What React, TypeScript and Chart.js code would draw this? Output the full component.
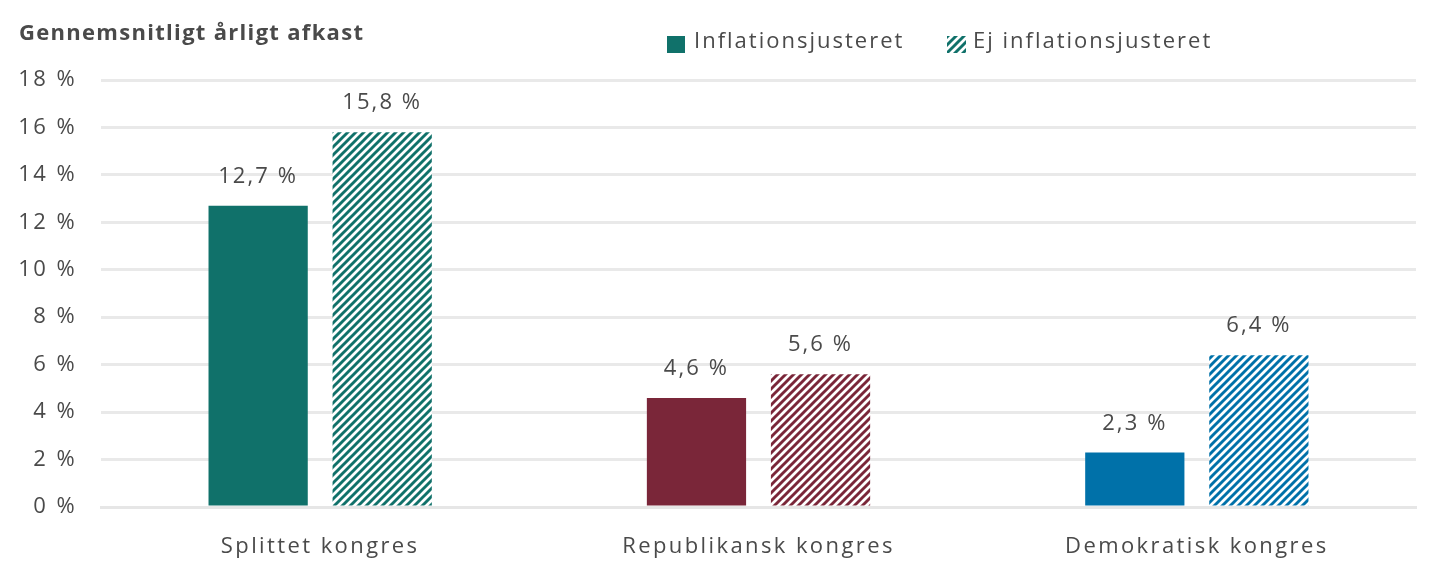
import React, { useEffect, useRef } from "react";
import { Chart, registerables } from "chart.js";

Chart.register(...registerables);

const categories = ["Splittet kongres", "Republikansk kongres", "Demokratisk kongres"];
const adjustedLabel = "Inflationsjusteret";
const nominalLabel = "Ej inflationsjusteret";
const adjustedValues = [12.7, 4.6, 2.3];
const nominalValues = [15.8, 5.6, 6.4];
const categoryColors = ["#10716a", "#7a2639", "#0071a9"];
const chartTitle = "Gennemsnitligt årligt afkast";
const FONT = '"Open Sans", sans-serif';
const TEXT = "#4a4a4a";

const fmt = (v: number) => `${v.toString().replace(".", ",")} %`;

function stripes(color: string): CanvasPattern {
  const size = 8;
  const c = document.createElement("canvas");
  c.width = size;
  c.height = size;
  const x = c.getContext("2d")!;
  x.fillStyle = "#ffffff";
  x.fillRect(0, 0, size, size);
  x.strokeStyle = color;
  x.lineWidth = 2.9;
  x.lineCap = "square";
  x.beginPath();
  for (let i = -size; i <= size; i += size) {
    x.moveTo(i - 1, size + 1);
    x.lineTo(i + size + 1, -1);
  }
  x.stroke();
  return x.createPattern(c, "repeat")!;
}

const spacingPlugin = {
  id: "spacing",
  beforeDraw(chart: any) {
    chart.ctx.letterSpacing = "2.4px";
  },
};

const barLabelPlugin = {
  id: "barLabels",
  afterDatasetsDraw(chart: any) {
    const ctx = chart.ctx;
    ctx.save();
    ctx.letterSpacing = "2.1px";
    ctx.font = `22px ${FONT}`;
    ctx.fillStyle = TEXT;
    ctx.textAlign = "center";
    ctx.textBaseline = "middle";
    chart.data.datasets.forEach((ds: any, i: number) => {
      chart.getDatasetMeta(i).data.forEach((bar: any, j: number) => {
        ctx.fillText(fmt(ds.data[j]), bar.x, bar.y - 29);
      });
    });
    ctx.restore();
  },
};

const headerPlugin = {
  id: "header",
  afterDraw(chart: any) {
    const ctx = chart.ctx;
    ctx.save();
    ctx.textBaseline = "middle";
    ctx.textAlign = "left";
    ctx.letterSpacing = "1.3px";
    ctx.font = `bold 22px ${FONT}`;
    ctx.fillStyle = TEXT;
    ctx.fillText(chartTitle, 19, 34);
    ctx.letterSpacing = "2px";
    ctx.font = `22px ${FONT}`;
    const ds = chart.data.datasets;
    ctx.fillStyle = ds[0].backgroundColor[0];
    ctx.fillRect(667, 36, 18, 17);
    ctx.fillStyle = ds[1].backgroundColor[0];
    ctx.fillRect(947, 36, 19, 17);
    ctx.fillStyle = TEXT;
    ctx.fillText(ds[0].label, 694, 42);
    ctx.fillText(ds[1].label, 973, 42);
    ctx.restore();
  },
};

export default function App() {
  const ref = useRef<HTMLCanvasElement>(null);

  useEffect(() => {
    document.body.style.margin = "0";
    document.body.style.background = "#ffffff";
    const chart = new Chart(ref.current!, {
      type: "bar",
      data: {
        labels: categories,
        datasets: [
          { label: adjustedLabel, data: adjustedValues, backgroundColor: categoryColors },
          { label: nominalLabel, data: nominalValues, backgroundColor: categoryColors.map(stripes) },
        ],
      },
      options: {
        responsive: false,
        animation: false,
        devicePixelRatio: 1,
        layout: { padding: { top: 80, right: 24, left: 0, bottom: 0 } },
        datasets: { bar: { categoryPercentage: 0.566, barPercentage: 0.8 } },
        plugins: {
          legend: { display: false },
          title: { display: false },
          tooltip: { enabled: false },
        },
        scales: {
          x: {
            grid: { display: false, drawTicks: false },
            border: { color: "#e6e6e6", width: 3 },
            ticks: { color: TEXT, font: { family: FONT, size: 22 }, padding: 27, maxRotation: 0 },
            afterFit(s: any) { s.height = 74; },
          },
          y: {
            min: 0,
            max: 18,
            grid: { color: "#e9e9e9", lineWidth: 3, drawTicks: false },
            border: { display: false },
            ticks: {
              stepSize: 2,
              color: TEXT,
              padding: 24,
              font: { family: FONT, size: 22 },
              callback: (v: any) => fmt(Number(v)),
            },
            afterFit(s: any) { s.width = 101; },
          },
        },
      },
      plugins: [spacingPlugin, barLabelPlugin, headerPlugin],
    } as any);
    return () => chart.destroy();
  }, []);

  return (
    <div style={{ width: 1440, height: 581 }}>
      <canvas ref={ref} width={1440} height={581} style={{ display: "block" }} />
    </div>
  );
}
